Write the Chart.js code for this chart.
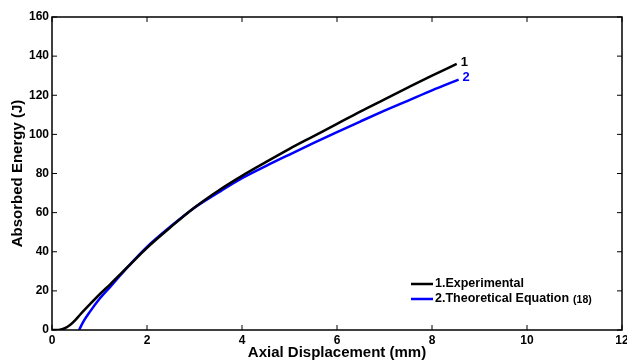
<!DOCTYPE html>
<html>
<head>
<meta charset="utf-8">
<script src="https://cdn.jsdelivr.net/npm/chart.js@4"></script>
<style>
  html, body { margin: 0; padding: 0; background: #fff; }
  #wrap { width: 627px; height: 362px; }
</style>
</head>
<body>
<div id="wrap"><canvas id="energy-chart"></canvas></div>
<script>
// values
const expX = [0, 0.1, 0.17, 0.27, 0.38, 0.49, 0.59, 0.8, 1.01, 1.23, 1.44, 1.65, 2, 2.5, 3, 3.5, 4, 4.5, 5, 5.5, 6, 6.5, 7, 7.5, 8, 8.52];
const expY = [0, 0, 0.2, 0.9, 2.5, 5.0, 7.8, 13.2, 18.4, 23.5, 28.6, 33.6, 42, 52.6, 62.6, 71.2, 78.8, 85.8, 92.6, 99, 105.4, 111.8, 117.9, 124, 130, 136];
const theoX = [0.57, 0.66, 0.8, 1.01, 1.23, 1.44, 1.65, 2, 2.5, 3, 3.55, 4, 4.5, 5, 5.5, 6, 6.5, 7, 7.5, 8, 8.56];
const theoY = [0, 4.3, 9.4, 16.2, 22.2, 28, 33.7, 42.5, 53, 62.5, 71, 77.6, 83.8, 89.7, 95.5, 101.2, 106.7, 112.1, 117.3, 122.5, 128];
const xTicks = [0, 2, 4, 6, 8, 10, 12];
const yTicks = [0, 20, 40, 60, 80, 100, 120, 140, 160];
const seriesNames = ['1.Experimental', '2.Theoretical Equation'];
const seriesTags = ['1', '2'];

const FONT = "'Liberation Sans', Arial, sans-serif";

const toPoints = (xs, ys) => xs.map((x, i) => ({ x: x, y: ys[i] }));

// box + inward ticks on all four sides, like a MATLAB axes
const boxPlugin = {
    id: 'box',
    afterDraw(chart) {
        const { ctx, chartArea: a, scales } = chart;
        const len = 5;
        ctx.save();
        ctx.strokeStyle = '#000';
        ctx.lineWidth = 1.5;
        ctx.strokeRect(a.left, a.top, a.right - a.left, a.bottom - a.top);
        ctx.lineWidth = 1;
        ctx.beginPath();
        xTicks.forEach(v => {
            const px = scales.x.getPixelForValue(v);
            ctx.moveTo(px, a.bottom); ctx.lineTo(px, a.bottom - len);
            ctx.moveTo(px, a.top); ctx.lineTo(px, a.top + len);
        });
        yTicks.forEach(v => {
            const py = scales.y.getPixelForValue(v);
            ctx.moveTo(a.left, py); ctx.lineTo(a.left + len, py);
            ctx.moveTo(a.right, py); ctx.lineTo(a.right - len, py);
        });
        ctx.stroke();
        ctx.restore();
    }
};

// "1" / "2" tags at the curve ends and the legend in the lower right
const labelPlugin = {
    id: 'labels',
    afterDatasetsDraw(chart) {
        const { ctx, chartArea: a } = chart;
        ctx.save();
        ctx.textBaseline = 'middle';
        ctx.textAlign = 'left';
        chart.data.datasets.forEach((ds, i) => {
            const meta = chart.getDatasetMeta(i);
            const last = meta.data[meta.data.length - 1];
            ctx.fillStyle = ds.borderColor;
            ctx.font = 'bold 13px ' + FONT;
            ctx.fillText(seriesTags[i], last.x + 4, last.y - 2);
        });

        const lx = a.right - 211, ly = a.bottom - 46;
        chart.data.datasets.forEach((ds, i) => {
            const y = ly + i * 15;
            ctx.strokeStyle = ds.borderColor;
            ctx.lineWidth = 2.5;
            ctx.beginPath();
            ctx.moveTo(lx, y); ctx.lineTo(lx + 22, y);
            ctx.stroke();
            ctx.fillStyle = '#000';
            ctx.font = 'bold 12.5px ' + FONT;
            ctx.fillText(seriesNames[i], lx + 24, y);
            if (i === 1) {
                const w = ctx.measureText(seriesNames[i]).width;
                ctx.font = 'bold 10.5px ' + FONT;
                ctx.fillText('(18)', lx + 24 + w + 4, y + 1);
            }
        });
        ctx.restore();
    }
};

new Chart(document.getElementById('energy-chart'), {
    type: 'scatter',
    data: {
        datasets: [{
            label: seriesNames[0],
            data: toPoints(expX, expY),
            showLine: true,
            borderColor: '#000000',
            borderWidth: 2.5,
            pointRadius: 0,
            cubicInterpolationMode: 'monotone'
        }, {
            label: seriesNames[1],
            data: toPoints(theoX, theoY),
            showLine: true,
            borderColor: '#0000ff',
            borderWidth: 2.5,
            pointRadius: 0,
            cubicInterpolationMode: 'monotone'
        }]
    },
    options: {
        responsive: true,
        maintainAspectRatio: false,
        animation: false,
        layout: { padding: { top: 17, right: 5, left: 0, bottom: 0 } },
        plugins: {
            legend: { display: false },
            tooltip: { enabled: false }
        },
        scales: {
            x: {
                type: 'linear',
                min: 0,
                max: 12,
                grid: { display: false, drawTicks: false, tickLength: 0 },
                border: { display: false },
                afterBuildTicks: s => { s.ticks = xTicks.map(v => ({ value: v })); },
                afterFit: s => { s.height = 32; s.paddingRight = 5; s.paddingLeft = 0; },
                ticks: {
                    color: '#000',
                    padding: 3,
                    maxRotation: 0,
                    font: { family: FONT, size: 12, weight: 'bold' }
                },
                title: {
                    display: true,
                    text: 'Axial Displacement (mm)',
                    color: '#000',
                    padding: { top: 0, bottom: 0 },
                    font: { family: FONT, size: 15, weight: 'bold' }
                }
            },
            y: {
                min: 0,
                max: 160,
                grid: { display: false, drawTicks: false, tickLength: 0 },
                border: { display: false },
                afterBuildTicks: s => { s.ticks = yTicks.map(v => ({ value: v })); },
                afterFit: s => { s.width = 52; },
                ticks: {
                    color: '#000',
                    padding: 3,
                    font: { family: FONT, size: 12, weight: 'bold' }
                },
                title: {
                    display: true,
                    text: 'Absorbed Energy (J)',
                    color: '#000',
                    padding: { top: 9, bottom: 0 },
                    font: { family: FONT, size: 15, weight: 'bold' }
                }
            }
        }
    },
    plugins: [boxPlugin, labelPlugin]
});
</script>
</body>
</html>
